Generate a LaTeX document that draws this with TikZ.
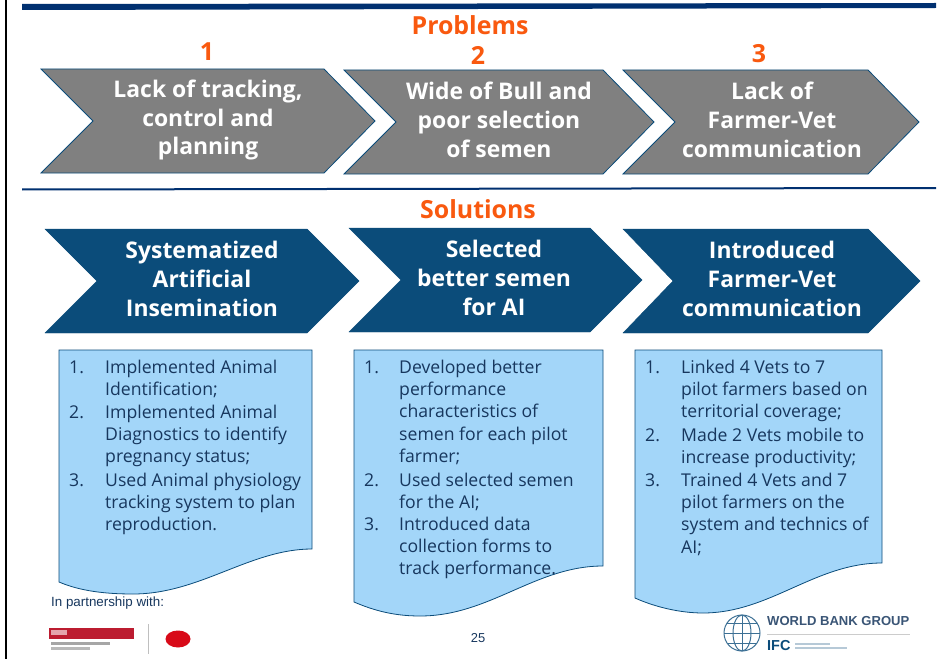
\documentclass[tikz,border=0pt]{standalone}
\usepackage{fontspec}
\setmainfont{Open Sans}
\setsansfont{Liberation Sans}
\definecolor{navy}{HTML}{003070}
\definecolor{deep}{HTML}{0B4C7A}
\definecolor{greyfill}{HTML}{808080}
\definecolor{orangetxt}{HTML}{F9590F}
\definecolor{sky}{HTML}{A3D6F9}
\definecolor{bodytxt}{HTML}{17375E}
\definecolor{logored}{HTML}{BC1C30}
\definecolor{dotred}{HTML}{D80A18}
\tikzset{
  grychev/.style={draw=deep,line width=0.8pt,fill=greyfill},
  bluchev/.style={draw=deep,line width=0.4pt,fill=deep},
  chevtext/.style={text=white,align=center,font=\fontsize{23}{29}\selectfont\bfseries,inner sep=0pt},
  head/.style={text=orangetxt,font=\fontsize{25}{28}\selectfont\bfseries,inner sep=0pt},
  docbox/.style={draw=deep,line width=0.8pt,fill=sky},
  listnum/.style={text=bodytxt,font=\fontsize{17.7}{22.4}\selectfont,anchor=north west,inner sep=0pt,yshift=-2pt},
  listtxt/.style={text=bodytxt,font=\fontsize{17.7}{22.4}\selectfont,anchor=north west,align=left,inner sep=0pt,yshift=-0.7pt},
  globeline/.style={draw=deep!80,line width=1pt},
}
\begin{document}
\begin{tikzpicture}[x=1bp,y=-1bp]
\useasboundingbox (0,0) rectangle (952,659);
\fill[white] (0,0) rectangle (952,659);
\fill[black] (4.5,0) rectangle (7,659);
\fill[navy] (22,4) -- (936,3) -- (936,8) -- (22,10) -- cycle;
\fill[navy] (22,188.5) -- (936,187) -- (936,189) -- (22,190.5) -- cycle;
\node[head] (hp) at (470,25.5) {Problems};
\node[head] (n1) at (207,52) {1};
\node[head] (n2) at (478,55) {2};
\node[head] (n3) at (759,54) {3};
\node[head] (hs) at (478,209.5) {Solutions};
% problem chevrons
\draw[grychev] (41,69) -- (324,69) -- (375,121) -- (324,173) -- (41,173) -- (93,121) -- cycle;
\draw[grychev] (344,70) -- (603,70) -- (654,122) -- (603,174) -- (344,174) -- (396,122) -- cycle;
\draw[grychev] (623,70) -- (868,70) -- (919,122) -- (868,174) -- (623,174) -- (675,122) -- cycle;
\node[chevtext] (p1) at (208,120) {Lack of tracking,\\control and\\planning};
\node[chevtext] (p2) at (499,120) {Wide of Bull and\\poor selection\\of semen};
\node[chevtext] (p3) at (772,120) {Lack of\\Farmer-Vet\\communication};
% solution chevrons
\draw[bluchev] (45,229) -- (307,229) -- (359,281) -- (307,333) -- (45,333) -- (97,281) -- cycle;
\draw[bluchev] (349,228) -- (590,228) -- (642,280) -- (590,332) -- (349,332) -- (401,280) -- cycle;
\draw[bluchev] (623,229) -- (868,229) -- (920,281) -- (868,333) -- (623,333) -- (673,281) -- cycle;
\node[chevtext] (s1) at (202,279) {Systematized\\Artificial\\Insemination};
\node[chevtext] (s2) at (494,278) {Selected\\better semen\\for AI};
\node[chevtext] (s3) at (772,279) {Introduced\\Farmer-Vet\\communication};
% document boxes
\draw[docbox] (59,350) -- (312,350) -- (312,549) .. controls (250,549) and (200,594) .. (133,594) .. controls (105,594) and (80,591) .. (59,582) -- cycle;
\draw[docbox] (354,350) -- (603,350) -- (603,566) .. controls (535,566) and (490,616) .. (420,616) .. controls (395,616) and (375,611) .. (354,602) -- cycle;
\draw[docbox] (635,350) -- (882,350) -- (882,563) .. controls (815,563) and (770,613) .. (703,613) .. controls (680,613) and (655,607) .. (635,598) -- cycle;
% lists
\node[listnum] (a1) at (69,359) {1.};
\node[listtxt] (a1t) at (105,359) {Implemented Animal\\Identification;};
\node[listnum] (a2) at (69,404) {2.};
\node[listtxt] (a2t) at (105,404) {Implemented Animal\\Diagnostics to identify\\pregnancy status;};
\node[listnum] (a3) at (69,472) {3.};
\node[listtxt] (a3t) at (105,472) {Used Animal physiology\\tracking system to plan\\reproduction.};
\node[listnum] (b1) at (364,359) {1.};
\node[listtxt] (b1t) at (399,359) {Developed better\\performance\\characteristics of\\semen for each pilot\\farmer;};
\node[listnum] (b2) at (364,472) {2.};
\node[listtxt] (b2t) at (399,472) {Used selected semen\\for the AI;};
\node[listnum] (b3) at (364,516) {3.};
\node[listtxt] (b3t) at (399,516) {Introduced data\\collection forms to\\track performance.};
\node[listnum] (c1) at (645,359) {1.};
\node[listtxt] (c1t) at (681,359) {Linked 4 Vets to 7\\pilot farmers based on\\territorial coverage;};
\node[listnum] (c2) at (645,427) {2.};
\node[listtxt] (c2t) at (681,427) {Made 2 Vets mobile to\\increase productivity;};
\node[listnum] (c3) at (645,472) {3.};
\node[listtxt] (c3t) at (681,472) {Trained 4 Vets and 7\\pilot farmers on the\\system and technics of\\AI;};
% footer
\node[text=bodytxt,font=\sffamily\fontsize{13.4}{15}\selectfont,anchor=west,inner sep=0pt] (pw) at (51,603.5) {In partnership with:};
\node[text=bodytxt,font=\sffamily\fontsize{13}{15}\selectfont,inner sep=0pt] (pg) at (478,638) {25};
\fill[logored] (49,628) rectangle (134,639);
\fill[white,opacity=.6] (51,630) rectangle (67,635);
\fill[gray!70] (51,642) rectangle (110,645);
\fill[gray!55] (51,647) rectangle (90,650);
\draw[gray!50,line width=0.8pt] (148.5,624) -- (148.5,654);
\fill[dotred] (178,639) ellipse (12.5 and 8.5);
% world bank
\draw[globeline] (742,633) circle (18);
\draw[globeline] (742,615) -- (742,651);
\draw[globeline] (724,633) -- (760,633);
\draw[globeline] (742,633) ellipse (9 and 18);
\draw[globeline] (727,623) -- (757,623);
\draw[globeline] (727,643) -- (757,643);
\node[text=bodytxt!85,font=\sffamily\bfseries\fontsize{13.1}{15}\selectfont,anchor=west,inner sep=0pt] (wb) at (767,621) {WORLD BANK GROUP};
\draw[gray!40,line width=0.8pt] (767,634) -- (910,634);
\node[text=deep,font=\sffamily\bfseries\fontsize{14.5}{15}\selectfont,anchor=west,inner sep=0pt] (ifc) at (767,646) {IFC};
\fill[deep!30] (795,642.5) rectangle (830,644.5);
\fill[deep!30] (795,647) rectangle (847,649);
\end{tikzpicture}
\end{document}
